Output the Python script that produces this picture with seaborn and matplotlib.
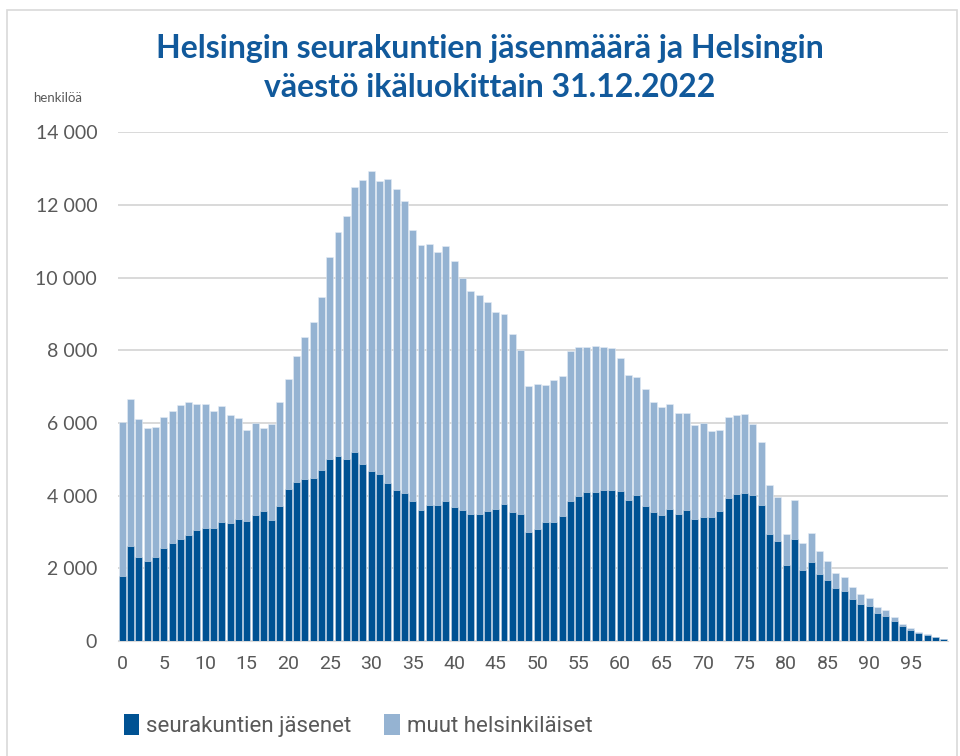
import matplotlib
matplotlib.use("Agg")
import matplotlib.pyplot as plt
import matplotlib.ticker as mticker
from matplotlib.patches import Rectangle, Patch
from matplotlib.font_manager import FontProperties
import numpy as np
import pandas as pd
import seaborn as sns

# ikä 0..99
ages = list(range(100))
total = [6025, 6657, 6107, 5869, 5887, 6162, 6336, 6492, 6566, 6529,
         6529, 6318, 6465, 6226, 6126, 5795, 5988, 5869, 5970, 6570,
         7210, 7833, 8357, 8778, 9464, 10581, 11267, 11689, 12503, 12677,
         12933, 12659, 12714, 12430, 12110, 11313, 10901, 10920, 10718, 10865,
         10453, 9986, 9620, 9510, 9327, 9062, 8998, 8439, 8000, 7021,
         7066, 7048, 7176, 7304, 7991, 8082, 8082, 8119, 8082, 8064,
         7799, 7332, 7268, 6929, 6590, 6444, 6517, 6270, 6270, 5950,
         6005, 5785, 5822, 6160, 6215, 6240, 5980, 5465, 4300, 3960,
         2945, 3890, 2697, 2963, 2486, 2202, 1862, 1752, 1486, 1284,
         1193, 945, 844, 661, 477, 349, 248, 183, 110, 55]
members = [1779, 2623, 2302, 2210, 2302, 2549, 2705, 2815, 2925, 3063,
           3118, 3118, 3265, 3246, 3356, 3310, 3475, 3567, 3338, 3710,
           4178, 4384, 4462, 4480, 4705, 5007, 5089, 5007, 5199, 4879,
           4677, 4604, 4357, 4146, 4082, 3863, 3616, 3735, 3735, 3854,
           3680, 3606, 3506, 3506, 3579, 3634, 3771, 3542, 3487, 3002,
           3076, 3268, 3268, 3451, 3845, 3991, 4092, 4092, 4147, 4165,
           4137, 3881, 4018, 3716, 3561, 3469, 3625, 3487, 3597, 3368,
           3414, 3414, 3579, 3927, 4037, 4078, 4010, 3757, 2950, 2761,
           2082, 2816, 1954, 2174, 1835, 1670, 1459, 1385, 1156, 1018,
           963, 761, 697, 550, 404, 312, 229, 174, 101, 46]
series_names = ["seurakuntien jäsenet", "muut helsinkiläiset"]
title = "Helsingin seurakuntien jäsenmäärä ja Helsingin\nväestö ikäluokittain 31.12.2022"

dark = "#005293"
light = "#95B3D2"
grey_txt = "#595959"

df = pd.DataFrame({"ika": ages, "yht": total, "jasenet": members})

sns.set_style("white")
plt.rcParams["font.family"] = ["Lato", "DejaVu Sans"]

fig = plt.figure(figsize=(9.6, 7.56), dpi=100)
ax = fig.add_axes([0.123, 0.152, 0.8645, 0.673])

sns.barplot(data=df, x="ika", y="yht", color=light, saturation=1, width=0.84,
            edgecolor="#E4ECF5", linewidth=0.4, ax=ax, zorder=2)
sns.barplot(data=df, x="ika", y="jasenet", color=dark, saturation=1, width=0.84,
            edgecolor="#D5E0EE", linewidth=0.4, ax=ax, zorder=3)

narrow = FontProperties(family=["Roboto", "DejaVu Sans"], size=14)
narrow_leg = FontProperties(family=["Roboto", "DejaVu Sans"], size=16)

ax.set_ylim(0, 14000)
ax.set_xlim(-0.5, 99.5)
ax.yaxis.set_major_locator(mticker.MultipleLocator(2000))
ax.yaxis.set_major_formatter(mticker.FuncFormatter(lambda v, p: f"{int(v):,}".replace(",", " ")))
ax.set_xticks(range(0, 100, 5))
ax.set_xticklabels([str(a) for a in range(0, 100, 5)], fontproperties=narrow, color=grey_txt)
ax.tick_params(axis="y", labelsize=14, labelcolor=grey_txt, length=0, pad=15)
ax.tick_params(axis="x", length=0, pad=10)
ax.grid(axis="y", color="#D9D9D9", linewidth=1.4, zorder=0)
ax.set_axisbelow(True)
for s in ["top", "right", "left"]:
    ax.spines[s].set_visible(False)
ax.spines["bottom"].set_color("#D9D9D9")
ax.set_xlabel("")
ax.set_ylabel("")

fig.text(0.034, 0.871, "henkilöä", fontsize=9.5, color=grey_txt, va="center")
fig.text(0.51, 0.91, title, ha="center", va="center", fontsize=23,
         fontweight="bold", color="#11599B", linespacing=1.45)

handles = [Patch(facecolor=dark, edgecolor="none"), Patch(facecolor=light, edgecolor="none")]
fig.legend(handles, series_names, loc="center left", bbox_to_anchor=(0.108, 0.04), ncol=2,
           frameon=False, handlelength=0.7, handleheight=1.1, handletextpad=0.3,
           columnspacing=1.5, prop=narrow_leg, labelcolor=grey_txt)

fig.patches.append(Rectangle((0.0073, -0.02), 0.99, 1.0068, transform=fig.transFigure,
                             fill=False, edgecolor="#D9D9D9", linewidth=1.2))

fig.savefig("out.png", dpi=100)
